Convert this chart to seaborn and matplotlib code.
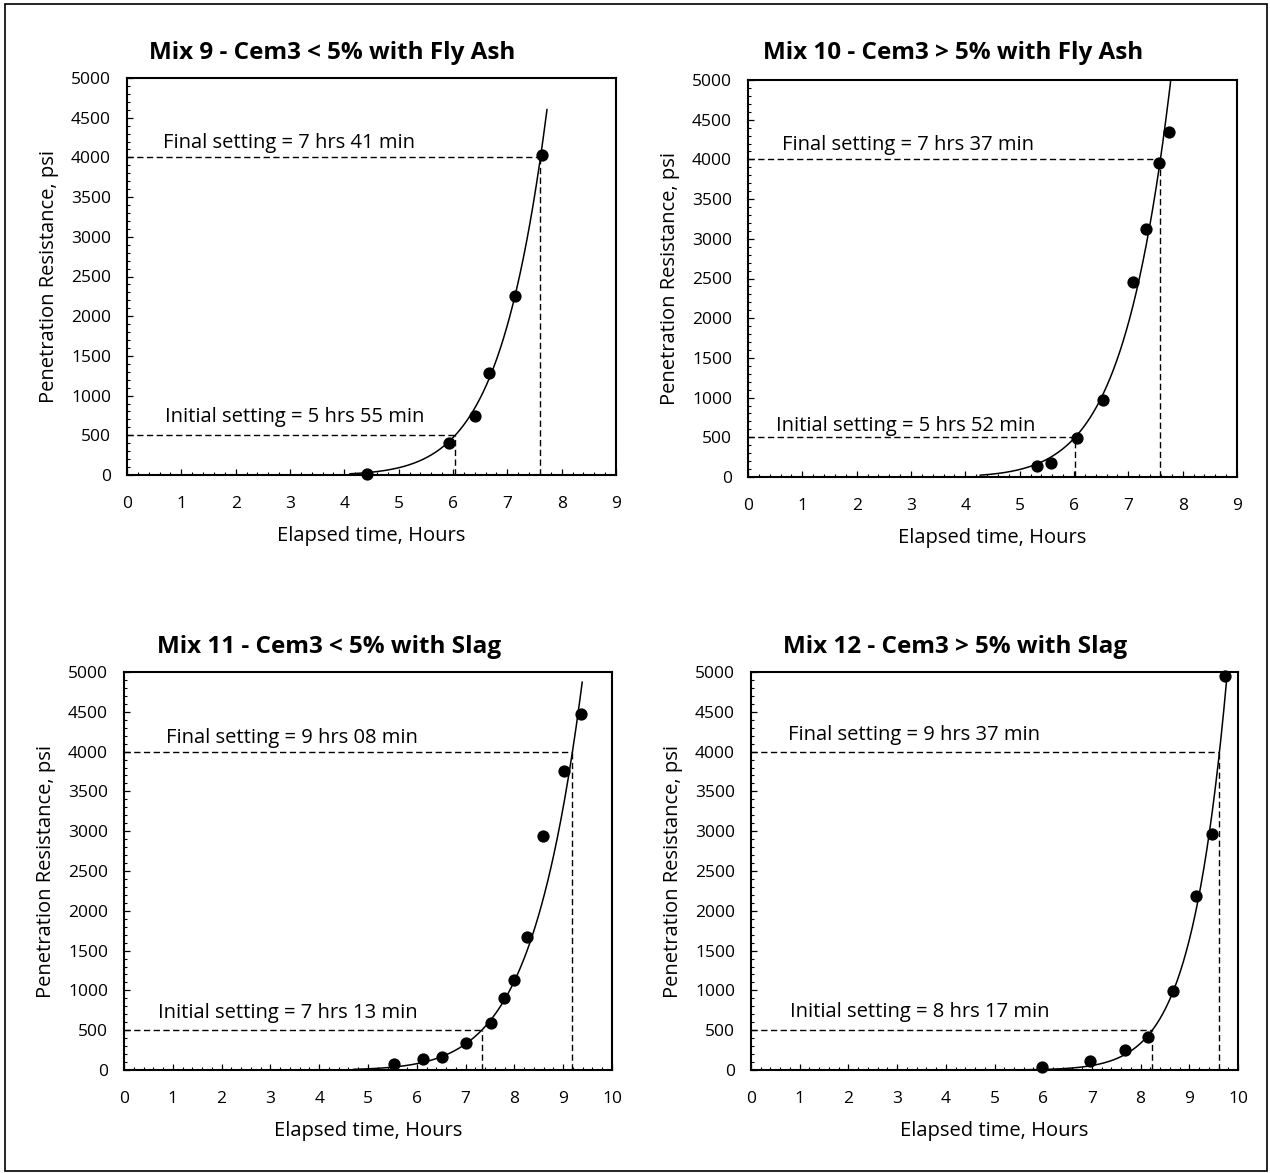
import numpy as np
import matplotlib
matplotlib.use("Agg")
import matplotlib.pyplot as plt
import seaborn as sns
from matplotlib.patches import Rectangle
from matplotlib.ticker import MultipleLocator

# ---------------- data ----------------
titles = ["Mix 9 - Cem3 < 5% with Fly Ash",
          "Mix 10 - Cem3 > 5% with Fly Ash",
          "Mix 11 - Cem3 < 5% with Slag",
          "Mix 12 - Cem3 > 5% with Slag"]

mix9_time = [4.42, 5.92, 6.41, 6.67, 7.14, 7.64]
mix9_pr = [15, 400, 740, 1290, 2260, 4030]

mix10_time = [5.31, 5.57, 6.05, 6.54, 7.08, 7.33, 7.57, 7.75]
mix10_pr = [133, 176, 490, 973, 2462, 3121, 3952, 4342]

mix11_time = [5.53, 6.12, 6.52, 7.01, 7.52, 7.79, 8.00, 8.26, 8.59, 9.02, 9.37]
mix11_pr = [75, 138, 167, 343, 586, 908, 1130, 1674, 2937, 3753, 4477]

mix12_time = [5.97, 6.96, 7.68, 8.15, 8.67, 9.14, 9.47, 9.74]
mix12_pr = [34, 113, 251, 411, 997, 2192, 2968, 4954]

initial_labels = ["Initial setting = 5 hrs 55 min",
                  "Initial setting = 5 hrs 52 min",
                  "Initial setting = 7 hrs 13 min",
                  "Initial setting = 8 hrs 17 min"]
final_labels = ["Final setting = 7 hrs 41 min",
                "Final setting = 7 hrs 37 min",
                "Final setting = 9 hrs 08 min",
                "Final setting = 9 hrs 37 min"]

# times where the dashed guide lines meet the fitted curve
initial_time = [6.04, 6.02, 7.33, 8.24]
final_time = [7.61, 7.59, 9.19, 9.62]
initial_pr = 500
final_pr = 4000

# extent of the fitted curve
curve_start = [4.10, 4.27, 4.70, 5.40]
curve_end = [7.73, 7.90, 9.39, 9.86]

x_max = [9, 9, 10, 10]

times = [mix9_time, mix10_time, mix11_time, mix12_time]
prs = [mix9_pr, mix10_pr, mix11_pr, mix12_pr]

# ---------------- layout ----------------
W, H = 1270, 1173
sns.set_theme(style="white")
plt.rcParams['font.family'] = ['Open Sans', 'DejaVu Sans']

fig = plt.figure(figsize=(W / 100, H / 100), dpi=100)
fig.patch.set_facecolor("white")

# axes boxes in pixels: left, top, right, bottom
boxes = [(127, 78, 616, 475), (748, 80, 1237, 477),
         (124, 672, 612, 1070), (751, 672, 1238, 1070)]
title_pos = [(332, 53), (953, 53), (329, 647), (955, 647)]
init_text_pos = [(0.70, 730), (0.52, 637), (0.70, 715), (0.80, 731)]
final_text_pos = [(0.67, 4180), (0.63, 4182), (0.87, 4167), (0.77, 4210)]

for i in range(4):
    l, t, r, b = boxes[i]
    ax = fig.add_axes([l / W, 1 - b / H, (r - l) / W, (b - t) / H])
    ax.set_facecolor("white")

    # fitted curve (power law through the setting points)
    expo = np.log(final_pr / initial_pr) / np.log(final_time[i] / initial_time[i])
    tt = np.linspace(curve_start[i], curve_end[i], 300)
    yy = initial_pr * (tt / initial_time[i]) ** expo
    sns.lineplot(x=tt, y=yy, ax=ax, color="black", linewidth=1.1, sort=False)

    # dashed guide lines
    ax.plot([0, initial_time[i]], [initial_pr, initial_pr], color="black",
            linewidth=1.0, dashes=(4.5, 2.5))
    ax.plot([initial_time[i], initial_time[i]], [0, initial_pr], color="black",
            linewidth=1.0, dashes=(4.5, 2.5))
    ax.plot([0, final_time[i]], [final_pr, final_pr], color="black",
            linewidth=1.0, dashes=(4.5, 2.5))
    ax.plot([final_time[i], final_time[i]], [0, final_pr], color="black",
            linewidth=1.0, dashes=(4.5, 2.5))

    # data points
    sns.scatterplot(x=times[i], y=prs[i], ax=ax, color="black", s=78,
                    edgecolor="black", linewidth=0, zorder=5, clip_on=False)

    ax.set_xlim(0, x_max[i])
    ax.set_ylim(0, 5000)
    ax.xaxis.set_major_locator(MultipleLocator(1))
    ax.xaxis.set_minor_locator(MultipleLocator(0.2))
    ax.yaxis.set_major_locator(MultipleLocator(500))
    ax.yaxis.set_minor_locator(MultipleLocator(100))
    ax.tick_params(which="major", direction="in", length=4.5, width=0.9,
                   color="black", labelsize=12.5, pad=11.5, labelcolor="black")
    ax.tick_params(axis="x", which="major", pad=15)
    ax.tick_params(which="minor", direction="in", length=2.3, width=0.8,
                   color="black")
    ax.tick_params(axis="x", which="both", bottom=True, top=False)
    ax.tick_params(axis="y", which="both", left=True, right=False)
    for sp in ax.spines.values():
        sp.set_color("black")
        sp.set_linewidth(1.5)
        sp.set_visible(True)

    ax.set_xlabel("Elapsed time, Hours", fontsize=14.5, color="black")
    ax.set_ylabel("Penetration Resistance, psi", fontsize=14.5, color="black")
    ax.xaxis.set_label_coords(0.5, -0.128)
    ax.yaxis.set_label_coords(-0.14, 0.5)

    ax.text(init_text_pos[i][0], init_text_pos[i][1], initial_labels[i],
            fontsize=14.5, ha="left", va="center", color="black")
    ax.text(final_text_pos[i][0], final_text_pos[i][1], final_labels[i],
            fontsize=14.5, ha="left", va="center", color="black")

    fig.text(title_pos[i][0] / W, 1 - title_pos[i][1] / H, titles[i],
             fontsize=17.5, fontweight="bold", ha="center", va="center",
             color="black")

# outer frame
fig.add_artist(Rectangle((5 / W, 1 - 1171 / H), (1267 - 5) / W, (1171 - 4) / H,
                         transform=fig.transFigure, fill=False,
                         edgecolor="black", linewidth=1.2))

fig.savefig("out.png", dpi=100, facecolor="white")
